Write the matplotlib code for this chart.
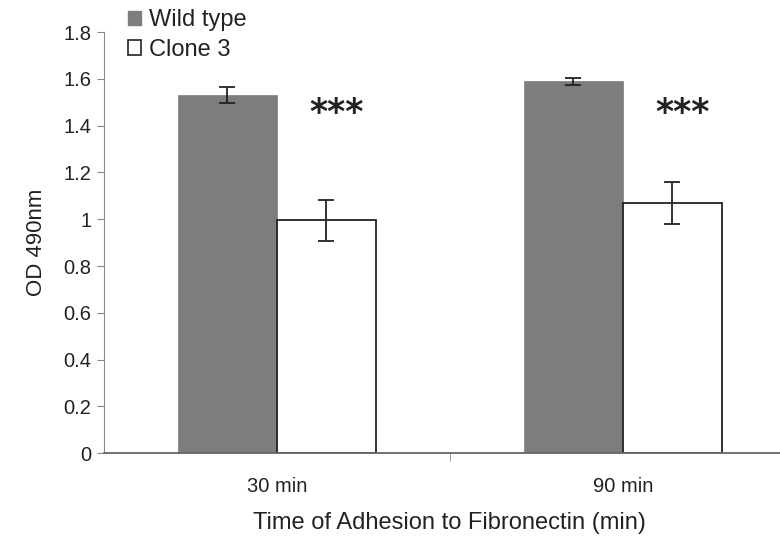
import numpy as np
import matplotlib.pyplot as plt
from matplotlib.patches import Patch

plt.rcParams['font.family'] = ['Liberation Sans', 'DejaVu Sans']

times = ['30 min', '90 min']
wild_type = [1.53, 1.59]
wild_type_err = [0.035, 0.015]
clone3 = [0.995, 1.07]
clone3_err = [0.088, 0.09]
signif = ['***', '***']

x = np.arange(len(times))
w = 0.286

fig = plt.figure(figsize=(7.8, 5.44), dpi=100)
ax = fig.add_axes([0.1333, 0.167, 0.887, 0.774])

ax.bar(x - w/2, wild_type, w, color='#7d7d7d', edgecolor='#7d7d7d', linewidth=0.5,
       yerr=wild_type_err, error_kw=dict(ecolor='#222222', elinewidth=1.3, capsize=6, capthick=1.3))
ax.bar(x + w/2, clone3, w, color='white', edgecolor='#222222', linewidth=1.3,
       yerr=clone3_err, error_kw=dict(ecolor='#222222', elinewidth=1.3, capsize=6, capthick=1.3))

# significance stars to the right of each pair
for xi, s in zip(x, signif):
    ax.text(xi + 0.172, 1.41, s, ha='center', va='baseline', fontsize=25,
            fontweight='bold', color='#222222', family='DejaVu Sans')

ax.set_xlim(-0.5, 1.5)
ax.set_ylim(0, 1.8)
ax.set_yticks(np.arange(0, 1.81, 0.2))
ax.set_yticklabels(['0', '0.2', '0.4', '0.6', '0.8', '1', '1.2', '1.4', '1.6', '1.8'])
ax.set_xticks(x)
ax.set_xticklabels(times)
ax.set_xticks([0.5], minor=True)
ax.tick_params(axis='x', which='major', length=0, pad=17, labelsize=14.5, labelcolor='#222222')
ax.tick_params(axis='x', which='minor', length=6, color='#888888')
ax.tick_params(axis='y', length=5, color='#888888', labelsize=14.5, pad=4, labelcolor='#222222')

for side in ['top', 'right']:
    ax.spines[side].set_visible(False)
ax.spines['left'].set_color('#888888')
ax.spines['bottom'].set_color('#666666')
ax.spines['bottom'].set_linewidth(1.3)

ax.set_ylabel('OD 490nm', fontsize=16, labelpad=12, color='#222222')
ax.set_xlabel('Time of Adhesion to Fibronectin (min)', fontsize=17, labelpad=12, color='#222222')

handles = [Patch(facecolor='#7d7d7d', edgecolor='#7d7d7d', label='Wild type'),
           Patch(facecolor='white', edgecolor='#222222', linewidth=1.2, label='Clone 3')]
fig.legend(handles=handles, loc='upper left', bbox_to_anchor=(0.137, 1.022), frameon=False,
           fontsize=17, handlelength=0.55, handleheight=0.55, handletextpad=0.35,
           labelspacing=0.32, labelcolor='#222222')

fig.savefig('out.png', dpi=100)
